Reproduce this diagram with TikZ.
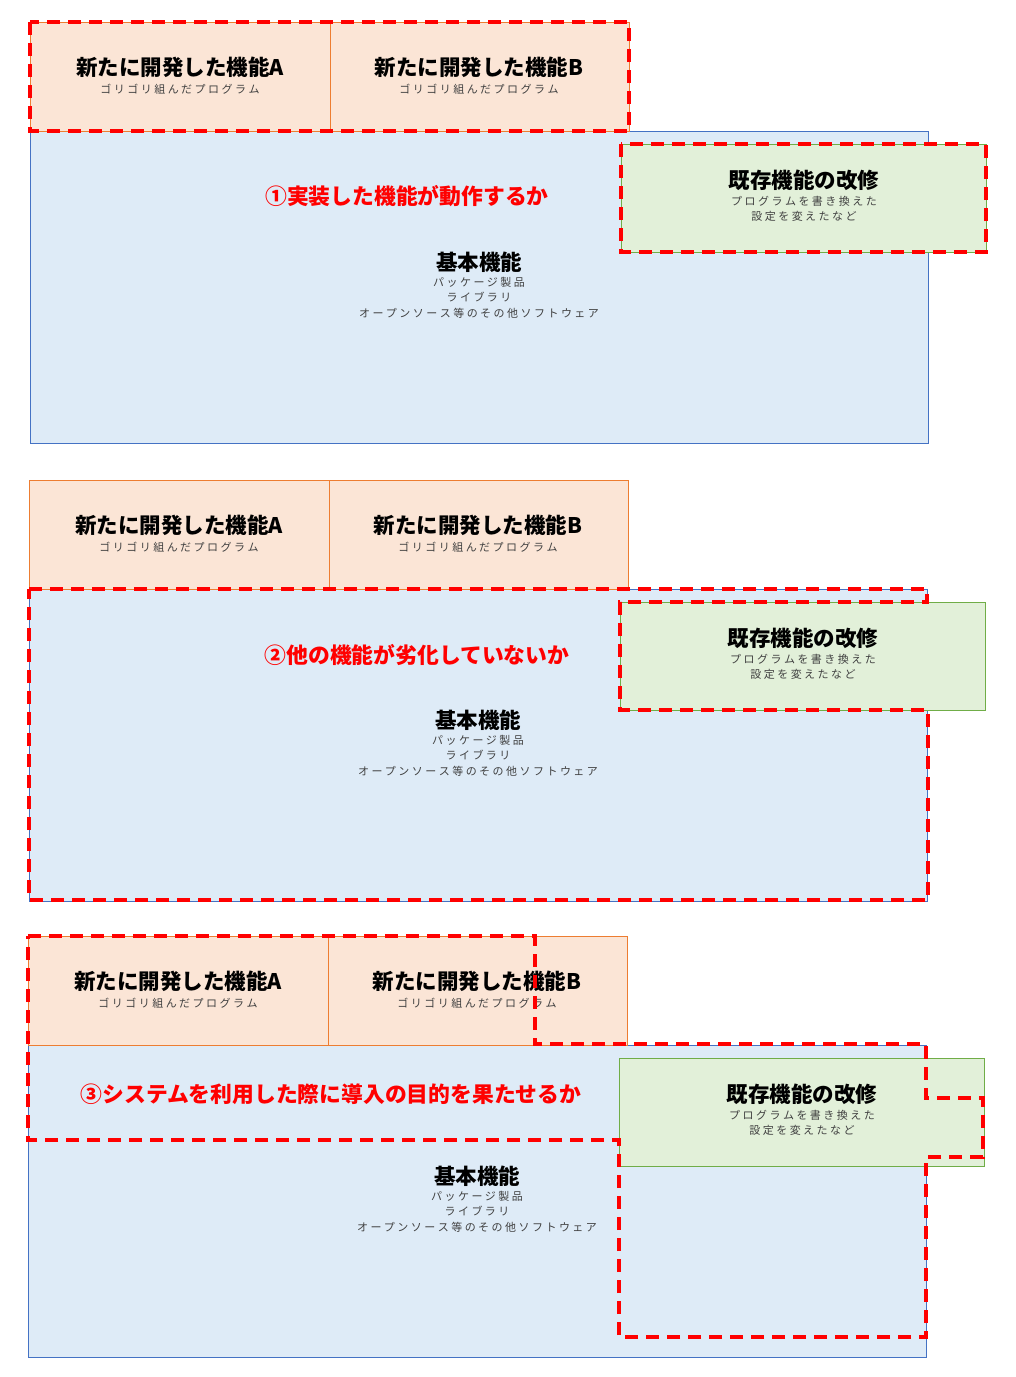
\documentclass[tikz,border=0pt]{standalone}
\usepackage{fontspec}
\setmainfont{Noto Sans CJK JP}
\definecolor{oF}{HTML}{FBE5D6}\definecolor{oD}{HTML}{ED7D31}
\definecolor{bF}{HTML}{DEEBF7}\definecolor{bD}{HTML}{4472C4}
\definecolor{gF}{HTML}{E2F0D9}\definecolor{gD}{HTML}{70AD47}
\definecolor{sT}{HTML}{404040}
\begin{document}
\begin{tikzpicture}[x=1pt,y=-1pt,
  org/.style={draw=oD,fill=oF,line width=1pt},
  blu/.style={draw=bD,fill=bF,line width=1pt},
  grn/.style={draw=gD,fill=gF,line width=1pt},
  ttl/.style={font=\bfseries\fontsize{21.5}{23}\selectfont,inner sep=0pt},
  sub/.style={font=\fontsize{11}{15.5}\selectfont,text=sT,align=center,inner sep=0pt},
  lab/.style={font=\bfseries\fontsize{21.8}{23}\selectfont,text=red,inner sep=0pt},
  dsh/.style={draw=red,line width=4pt,dash pattern=on 13pt off 8pt}]
\useasboundingbox (0,0) rectangle (1016,1377);
\newcommand{\mypanel}[3]{%
 \begin{scope}[shift={(#2,#3)}]
  \path[blu] (30,131) rectangle (928,443);
  \path[org] (30,22) rectangle (330,131);
  \path[org] (330,22) rectangle (629,131);
  \path[grn] (621,144) rectangle (986,252);
  \node[ttl] (a#1) at (180,67) {新たに開発した機能A};
  \node[sub] (as#1) at (180,89) {ゴ リ ゴ リ 組 ん だ プ ロ グ ラ ム};
  \node[ttl] (b#1) at (479,67) {新たに開発した機能B};
  \node[sub] (bs#1) at (479,89) {ゴ リ ゴ リ 組 ん だ プ ロ グ ラ ム};
  \node[ttl] (k#1) at (479,262) {基本機能};
  \node[sub,anchor=north] (ks#1) at (479,277) {パ ッ ケ ー ジ 製 品\\ラ イ ブ ラ リ\\オ ー プ ン ソ ー ス 等 の そ の 他 ソ フ ト ウ ェ ア};
  \node[ttl] (g#1) at (804,180) {既存機能の改修};
  \node[sub,anchor=north] (gs#1) at (804,196) {プ ロ グ ラ ム を 書 き 換 え た\\設 定 を 変 え た な ど};
 \end{scope}}
\mypanel{1}{0}{0}
\mypanel{2}{-1}{458}
\mypanel{3}{-2}{914}
\node[lab] (l1) at (407,196) {①実装した機能が動作するか};
\node[lab] (l2) at (417,655) {②他の機能が劣化していないか};
\node[lab] (l3) at (331,1094) {③システムを利用した際に導入の目的を果たせるか};
% dashed outlines
\draw[dsh] (30,22) rectangle (629,131);
\draw[dsh] (621,144) rectangle (986,252);
\draw[dsh] (29,589) -- (927,589) -- (927,602) -- (620,602) -- (620,710) -- (928,710) -- (928,900) -- (29,900) -- cycle;
\draw[dsh] (28,936) -- (535,936) -- (535,1044) -- (926,1044) -- (926,1098) -- (983,1098) -- (983,1157) -- (926,1157) -- (926,1337) -- (619,1337) -- (619,1140) -- (28,1140) -- cycle;
\end{tikzpicture}
\end{document}
